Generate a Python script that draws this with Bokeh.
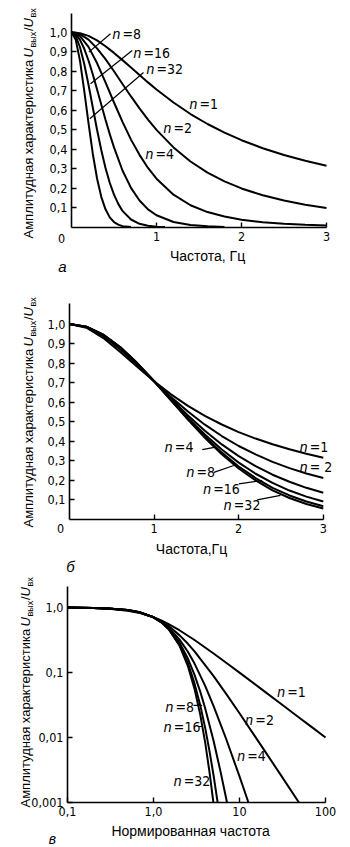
import math
from bokeh.plotting import figure
from bokeh.models import FixedTicker, CustomJSTickFormatter, Label, ColumnDataSource
from bokeh.layouts import column
from bokeh.embed import file_html
from bokeh.resources import INLINE
from bokeh.core.properties import value

# ---------------- Panel a (not normalised) ----------------
fa = [0, 0.1, 0.2, 0.3, 0.4, 0.5, 0.6, 0.7, 0.8, 0.9, 1.0, 1.2, 1.4, 1.6, 1.8, 2.0, 2.25, 2.5, 2.75, 3.0]
a_n1 = [1.0, 0.995, 0.981, 0.958, 0.928, 0.894, 0.857, 0.819, 0.781, 0.743, 0.707, 0.640, 0.581, 0.530, 0.486, 0.447, 0.406, 0.371, 0.342, 0.316]
a_n2 = [1.0, 0.990, 0.962, 0.917, 0.862, 0.800, 0.735, 0.671, 0.610, 0.552, 0.500, 0.410, 0.338, 0.281, 0.236, 0.200, 0.165, 0.138, 0.117, 0.100]
a_n4 = [1.0, 0.980, 0.925, 0.842, 0.743, 0.640, 0.541, 0.450, 0.372, 0.305, 0.250, 0.168, 0.114, 0.079, 0.056, 0.040, 0.027, 0.019, 0.014, 0.010]
fa_n8 = [0, 0.05, 0.1, 0.15, 0.2, 0.25, 0.3, 0.35, 0.4, 0.45, 0.5, 0.6, 0.7, 0.8, 0.9, 1.0, 1.2, 1.4, 1.6, 1.8]
a_n8 = [1.0, 0.990, 0.961, 0.915, 0.855, 0.785, 0.708, 0.630, 0.552, 0.478, 0.410, 0.292, 0.203, 0.138, 0.093, 0.0625, 0.028, 0.013, 0.006, 0.003]
fa_n16 = [0, 0.05, 0.1, 0.15, 0.2, 0.25, 0.3, 0.35, 0.4, 0.45, 0.5, 0.55, 0.6, 0.7, 0.8, 0.9, 1.0, 1.1]
a_n16 = [1.0, 0.980, 0.923, 0.837, 0.731, 0.616, 0.502, 0.397, 0.305, 0.229, 0.168, 0.121, 0.085, 0.041, 0.019, 0.009, 0.004, 0.002]
fa_n32 = [0, 0.05, 0.1, 0.15, 0.2, 0.25, 0.3, 0.35, 0.4, 0.45, 0.5, 0.55, 0.6, 0.7]
a_n32 = [1.0, 0.961, 0.853, 0.700, 0.534, 0.379, 0.252, 0.157, 0.093, 0.052, 0.028, 0.015, 0.007, 0.002]

a_lbl_x = [0.482, 0.729, 0.882, 1.388, 1.082, 0.871]
a_lbl_y = [0.993, 0.896, 0.814, 0.633, 0.508, 0.374]
a_lbl_t = ["=8", "=16", "=32", "=1", "=2", "=4"]
a_lead_x0 = [0.204, 0.224, 0.215]
a_lead_y0 = [0.898, 0.736, 0.557]
a_lead_x1 = [0.459, 0.714, 0.847]
a_lead_y1 = [0.992, 0.906, 0.794]
a_yticks = [0.1, 0.2, 0.3, 0.4, 0.5, 0.6, 0.7, 0.8, 0.9, 1.0]
a_xticks = [1, 2, 3]

# ---------------- Panel b (normalised to 0.707 at 1 Hz) ----------------
fb = [0, 0.2, 0.4, 0.6, 0.8, 1.0, 1.2, 1.4, 1.6, 1.8, 2.0, 2.2, 2.4, 2.6, 2.8, 3.0]
b_n1 = [1.0, 0.981, 0.928, 0.857, 0.781, 0.707, 0.640, 0.581, 0.530, 0.486, 0.447, 0.414, 0.385, 0.359, 0.336, 0.316]
b_n2 = [1.0, 0.984, 0.938, 0.870, 0.791, 0.707, 0.626, 0.552, 0.485, 0.427, 0.376, 0.333, 0.295, 0.263, 0.235, 0.212]
b_n4 = [1.0, 0.985, 0.942, 0.877, 0.796, 0.707, 0.618, 0.532, 0.454, 0.384, 0.324, 0.273, 0.229, 0.193, 0.162, 0.137]
b_n8 = [1.0, 0.986, 0.944, 0.880, 0.798, 0.707, 0.613, 0.520, 0.435, 0.358, 0.291, 0.234, 0.187, 0.148, 0.117, 0.092]
b_n16 = [1.0, 0.986, 0.945, 0.881, 0.800, 0.707, 0.610, 0.514, 0.424, 0.342, 0.271, 0.212, 0.162, 0.123, 0.092, 0.068]
b_n32 = [1.0, 0.986, 0.946, 0.882, 0.800, 0.707, 0.609, 0.511, 0.418, 0.334, 0.261, 0.200, 0.149, 0.110, 0.079, 0.056]

b_lbl_x = [2.722, 2.722, 1.127, 1.383, 1.580, 1.824]
b_lbl_y = [0.370, 0.271, 0.370, 0.242, 0.157, 0.076]
b_lbl_t = ["=1", "= 2", "=4", "=8", "=16", "=32"]
b_lead_x0 = [1.569, 1.706, 2.001, 2.219]
b_lead_y0 = [0.357, 0.241, 0.182, 0.100]
b_lead_x1 = [1.726, 1.942, 2.278, 2.494]
b_lead_y1 = [0.370, 0.276, 0.199, 0.123]

# ---------------- Panel c (log-log, normalised frequency) ----------------
fc_n1 = [0.1, 0.2, 0.3, 0.5, 0.7, 1.0, 1.25, 1.5, 2, 3, 5, 7, 10, 20, 30, 50, 70, 100]
c_n1 = [0.995, 0.981, 0.958, 0.894, 0.819, 0.707, 0.625, 0.555, 0.447, 0.316, 0.196, 0.141, 0.0995, 0.0499, 0.0333, 0.0200, 0.0143, 0.0100]
fc_n2 = [0.1, 0.2, 0.3, 0.5, 0.7, 1.0, 1.25, 1.5, 2, 2.5, 3, 5, 7, 10, 15, 20, 30, 49.1]
c_n2 = [0.996, 0.984, 0.964, 0.906, 0.831, 0.707, 0.607, 0.518, 0.376, 0.279, 0.212, 0.0881, 0.0470, 0.0236, 0.0106, 0.0060, 0.00268, 0.001]
fc_n4 = [0.1, 0.2, 0.3, 0.5, 0.7, 1.0, 1.25, 1.5, 2, 2.5, 3, 4, 5, 7, 10, 12, 12.7]
c_n4 = [0.996, 0.985, 0.967, 0.912, 0.838, 0.707, 0.596, 0.492, 0.324, 0.210, 0.137, 0.0617, 0.0305, 0.00948, 0.00252, 0.00125, 0.001]
fc_n8 = [0.1, 0.2, 0.3, 0.5, 0.7, 1.0, 1.25, 1.5, 2, 2.5, 3, 3.5, 4, 5, 6, 7, 7.15]
c_n8 = [0.996, 0.986, 0.968, 0.914, 0.841, 0.707, 0.589, 0.476, 0.291, 0.166, 0.092, 0.0506, 0.0278, 0.00883, 0.00304, 0.00115, 0.001]
fc_n16 = [0.1, 0.2, 0.3, 0.5, 0.7, 1.0, 1.25, 1.5, 2, 2.5, 3, 3.5, 4, 4.5, 5, 5.5, 5.57]
c_n16 = [0.996, 0.986, 0.969, 0.916, 0.842, 0.707, 0.586, 0.468, 0.271, 0.142, 0.068, 0.0312, 0.0138, 0.00597, 0.00258, 0.00112, 0.001]
fc_n32 = [0.1, 0.2, 0.3, 0.5, 0.7, 1.0, 1.25, 1.5, 2, 2.5, 3, 3.5, 4, 4.5, 4.97]
c_n32 = [0.997, 0.986, 0.969, 0.916, 0.843, 0.707, 0.584, 0.463, 0.261, 0.128, 0.056, 0.0223, 0.0082, 0.0028, 0.001]

c_lbl_x = [27.4, 11.7, 9.4, 1.38, 1.32, 1.72]
c_lbl_y = [0.0498, 0.0183, 0.00528, 0.0292, 0.0144, 0.00218]
c_lbl_t = ["=1", "=2", "=4", "=8", "=16", "=32"]
c_lead_x0 = [2.92, 3.27]
c_lead_y0 = [0.0311, 0.01476]
c_lead_x1 = [3.68, 3.71]
c_lead_y1 = [0.0311, 0.01476]
c_ticks = [0.001, 0.01, 0.1, 1, 10, 100]

TICKFONT = "DejaVu Sans Condensed"
SANS = "Liberation Sans"
INK = "black"
W = 350


def make_fig(H, x0px, ppx, x0, y0px, ppy, y0, xb, yb, xlog=False, ylog=False):
    # the frame covers the whole canvas; the axes are pinned at the data origin
    if xlog:
        lx0 = math.log10(x0)
        xr = (10 ** (lx0 - x0px / ppx), 10 ** (lx0 + (W - x0px) / ppx))
    else:
        xr = (x0 - x0px / ppx, x0 + (W - x0px) / ppx)
    if ylog:
        ly0 = math.log10(y0)
        yr = (10 ** (ly0 - (H - y0px) / ppy), 10 ** (ly0 + y0px / ppy))
    else:
        yr = (y0 - (H - y0px) / ppy, y0 + y0px / ppy)
    p = figure(width=W, height=H, x_range=xr, y_range=yr,
               x_axis_type="log" if xlog else "linear",
               y_axis_type="log" if ylog else "linear",
               output_backend="svg", toolbar_location=None, min_border=0)
    p.grid.visible = False
    p.outline_line_color = None
    p.background_fill_color = "white"
    p.border_fill_color = "white"
    p.xaxis.fixed_location = y0
    p.yaxis.fixed_location = x0
    p.xaxis.bounds = xb
    p.yaxis.bounds = yb
    for ax in p.axis:
        ax.axis_line_color = INK
        ax.axis_line_width = 1.6
        ax.major_tick_in = 5
        ax.major_tick_out = 0
        ax.major_tick_line_width = 1.4
        ax.major_tick_line_color = INK
        ax.minor_tick_line_color = None
        ax.major_label_text_font = TICKFONT
        ax.major_label_text_font_size = "12.5px"
        ax.major_label_text_color = INK
        ax.major_label_standoff = 4
    return p


def lab(p, H, x, y, text, size="14px", style="normal", font=SANS, angle=0.0,
        align="center", baseline="middle"):
    p.add_layout(Label(x=x, y=H - y, x_units="screen", y_units="screen",
                       text=text, text_font=font, text_font_size=size,
                       text_font_style=style, text_color=INK, angle=angle,
                       text_align=align, text_baseline=baseline))


def ytitle(p, H, xc, start):
    r = math.pi / 2
    pieces = [
        ("Амплитудная  характеристика", 0, "13px", "normal", 0),
        ("U", 181, "13px", "italic", 0),
        ("вых", 191, "9px", "normal", 4),
        ("/", 207.5, "13px", "normal", 0),
        ("U", 211, "13px", "italic", 0),
        ("вх", 221, "9px", "normal", 4),
    ]
    for t, off, sz, st, dx in pieces:
        lab(p, H, xc + dx, start - off, t, size=sz, style=st, angle=r,
            align="left", baseline="middle")


def curve_labels(p, xs, ys, ts):
    src = ColumnDataSource(dict(x=xs, y=ys, t=ts))
    p.text(x="x", y="y", text=value("n"), source=src, text_font=value(SANS),
           text_font_style="italic", text_font_size="14px", text_align="left",
           text_baseline="middle", text_color=INK)
    p.text(x="x", y="y", text="t", source=src, text_font=value(TICKFONT),
           text_font_size="14px", text_align="left", text_baseline="middle",
           x_offset=10, text_color=INK)


dec_fmt = CustomJSTickFormatter(code="return tick.toFixed(1).replace('.', ',');")
int_fmt = CustomJSTickFormatter(code="return tick.toFixed(0);")
log_fmt = CustomJSTickFormatter(code="""
const e = Math.round(Math.log10(tick));
const m = {'-3': '0,001', '-2': '0,01', '-1': '0,1', '0': '1,0', '1': '10', '2': '100'};
return m[String(e)];
""")

# ---- panel a (page rows 0..287) ----
Ha = 287
pa = make_fig(Ha, 71, 85.0, 0, 227, 195.3, 0, (0, 3), (0, 1.096))
pa.yaxis.ticker = FixedTicker(ticks=a_yticks)
pa.yaxis.formatter = dec_fmt
pa.xaxis.ticker = FixedTicker(ticks=a_xticks)
pa.xaxis.formatter = int_fmt
for xs, ys in [(fa, a_n1), (fa, a_n2), (fa, a_n4), (fa_n8, a_n8), (fa_n16, a_n16), (fa_n32, a_n32)]:
    pa.line(xs, ys, line_width=2, line_color=INK)
pa.segment(x0=a_lead_x0, y0=a_lead_y0, x1=a_lead_x1, y1=a_lead_y1, line_width=1.2, line_color=INK)
curve_labels(pa, a_lbl_x, a_lbl_y, a_lbl_t)
lab(pa, Ha, 61, 238, "0", font=TICKFONT, size="12.5px")
lab(pa, Ha, 209, 255, "Частота,  Гц")
lab(pa, Ha, 62, 266, "а", size="15px", style="italic")
ytitle(pa, Ha, 28, 238)

# ---- panel b (page rows 287..575) ----
Hb = 288
pb = make_fig(Hb, 69, 84.6, 0, 232, 195.5, 0, (0, 3), (0, 1.105))
pb.yaxis.ticker = FixedTicker(ticks=a_yticks)
pb.yaxis.formatter = dec_fmt
pb.xaxis.ticker = FixedTicker(ticks=a_xticks)
pb.xaxis.formatter = int_fmt
for ys in [b_n1, b_n2, b_n4, b_n8, b_n16, b_n32]:
    pb.line(fb, ys, line_width=2, line_color=INK)
pb.segment(x0=b_lead_x0, y0=b_lead_y0, x1=b_lead_x1, y1=b_lead_y1, line_width=1.2, line_color=INK)
curve_labels(pb, b_lbl_x, b_lbl_y, b_lbl_t)
lab(pb, Hb, 60, 241, "0", font=TICKFONT, size="12.5px")
lab(pb, Hb, 191, 261, "Частота,Гц")
lab(pb, Hb, 70, 279, "б", size="15px", style="italic")
ytitle(pb, Hb, 28, 240)

# ---- panel c (page rows 575..847) ----
Hc = 272
pc = make_fig(Hc, 67, 86.0, 0.1, 227, 65.0, 0.001, (0.1, 100), (0.001, 2.1), xlog=True, ylog=True)
pc.yaxis.ticker = FixedTicker(ticks=c_ticks[:4])
pc.yaxis.formatter = log_fmt
pc.xaxis.ticker = FixedTicker(ticks=c_ticks[2:])
pc.xaxis.formatter = log_fmt
for xs, ys in [(fc_n1, c_n1), (fc_n2, c_n2), (fc_n4, c_n4), (fc_n8, c_n8), (fc_n16, c_n16), (fc_n32, c_n32)]:
    pc.line(xs, ys, line_width=2, line_color=INK)
pc.segment(x0=c_lead_x0, y0=c_lead_y0, x1=c_lead_x1, y1=c_lead_y1, line_width=1.2, line_color=INK)
curve_labels(pc, c_lbl_x, c_lbl_y, c_lbl_t)
lab(pc, Hc, 192, 255, "Нормированная  частота")
lab(pc, Hc, 52, 263, "в", size="14px", style="italic")
ytitle(pc, Hc, 25, 232)

layout = column(pa, pb, pc, spacing=0)
open("out.html", "w").write(file_html(layout, INLINE, "Амплитудные характеристики"))
